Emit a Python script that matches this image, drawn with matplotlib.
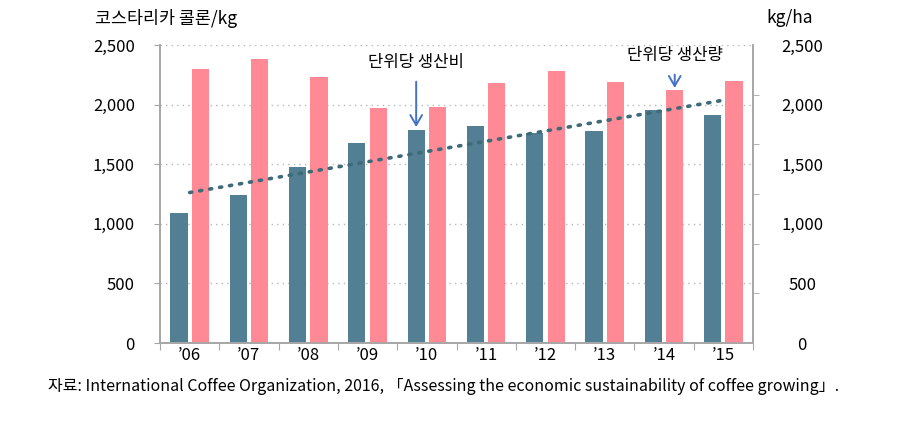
import matplotlib.pyplot as plt
import numpy as np

plt.rcParams['font.family'] = ['Noto Sans CJK KR', 'DejaVu Sans']

years = ["’06", "’07", "’08", "’09", "’10", "’11", "’12", "’13", "’14", "’15"]
cost = [1090, 1244, 1474, 1675, 1787, 1818, 1759, 1781, 1955, 1913]       # 코스타리카 콜론/kg
yield_ha = [2299, 2380, 2234, 1971, 1982, 2181, 2282, 2192, 2122, 2195]   # kg/ha

teal = "#527f93"
pink = "#ff8a96"
grey = "#a6a6a6"

x = np.arange(len(years))
w = 0.29
off = 0.18

fig = plt.figure(figsize=(8.98, 4.44), dpi=100)
ax = fig.add_axes([160/898, 101/444, 593/898, 298/444])
ax2 = ax.twinx()

ax.bar(x - off, cost, width=w, color=teal, zorder=2)
ax2.bar(x + off, yield_ha, width=w, color=pink, zorder=2)

# linear trend of the cost series
k, b = np.polyfit(x, cost, 1)
ax2.plot(x, k * x + b, color="#3f6b78", lw=2.6, linestyle=(0, (0.6, 2.2)),
         dash_capstyle="round", zorder=3)

for a in (ax, ax2):
    a.set_xlim(-0.5, len(years) - 0.5)
    a.set_ylim(0, 2500)
    a.spines["top"].set_visible(False)
    for s in ["left", "right", "bottom"]:
        a.spines[s].set_color(grey)
        a.spines[s].set_linewidth(1.2)

ax.set_yticks(np.arange(0, 2501, 500))
ax.set_yticklabels(["0", "500", "1,000", "1,500", "2,000", "2,500"], fontsize=12)
ax.tick_params(axis="y", length=4, color=grey, pad=14)
ax.yaxis.grid(True, linestyle=(0, (1, 3)), color="#b8b8b8", lw=1)
ax.set_axisbelow(True)

ax.set_xticks(np.arange(-0.5, len(years), 1))
ax.set_xticklabels([])
ax.set_xticks(x, minor=True)
ax.set_xticklabels(years, minor=True, fontsize=12)
ax.tick_params(axis="x", which="major", length=5, color=grey)
ax.tick_params(axis="x", which="minor", length=0, pad=3)

ax2.set_yticks(np.arange(0, 2501, 500))
ax2.set_yticklabels(["0", "500", "1,000", "1,500", "2,000", "2,500"], fontsize=12)
ax2.set_yticks(np.linspace(0, 2500, 7), minor=True)
ax2.tick_params(axis="y", which="major", length=0, pad=12)
ax2.tick_params(axis="y", which="minor", length=4, color=grey)
for t in ax2.get_yticklabels():
    t.set_horizontalalignment("center")
    t.set_x(1.055)

arrow = dict(arrowstyle="->,head_length=0.6,head_width=0.35", color="#4472c4",
             lw=1.4, shrinkA=6, shrinkB=0)
ax2.annotate("단위당 생산비", xy=(4 - off, 1812), xytext=(4 - off, 2357),
             ha="center", va="center", fontsize=12, arrowprops=arrow)
ax2.annotate("단위당 생산량", xy=(8 + off, 2140), xytext=(8 + off, 2416),
             ha="center", va="center", fontsize=12, arrowprops=arrow)

fig.text(95/898, 1 - 18/444, "코스타리카 콜론/kg", fontsize=12.5, va="center", ha="left")
fig.text(790/898, 1 - 18/444, "kg/ha", fontsize=12.5, va="center", ha="center")
fig.text(48/898, 1 - 386/444,
         "자료: International Coffee Organization, 2016, 「Assessing the economic sustainability of coffee growing」.",
         fontsize=11.5, va="center", ha="left")

fig.savefig("out.png", dpi=100)
